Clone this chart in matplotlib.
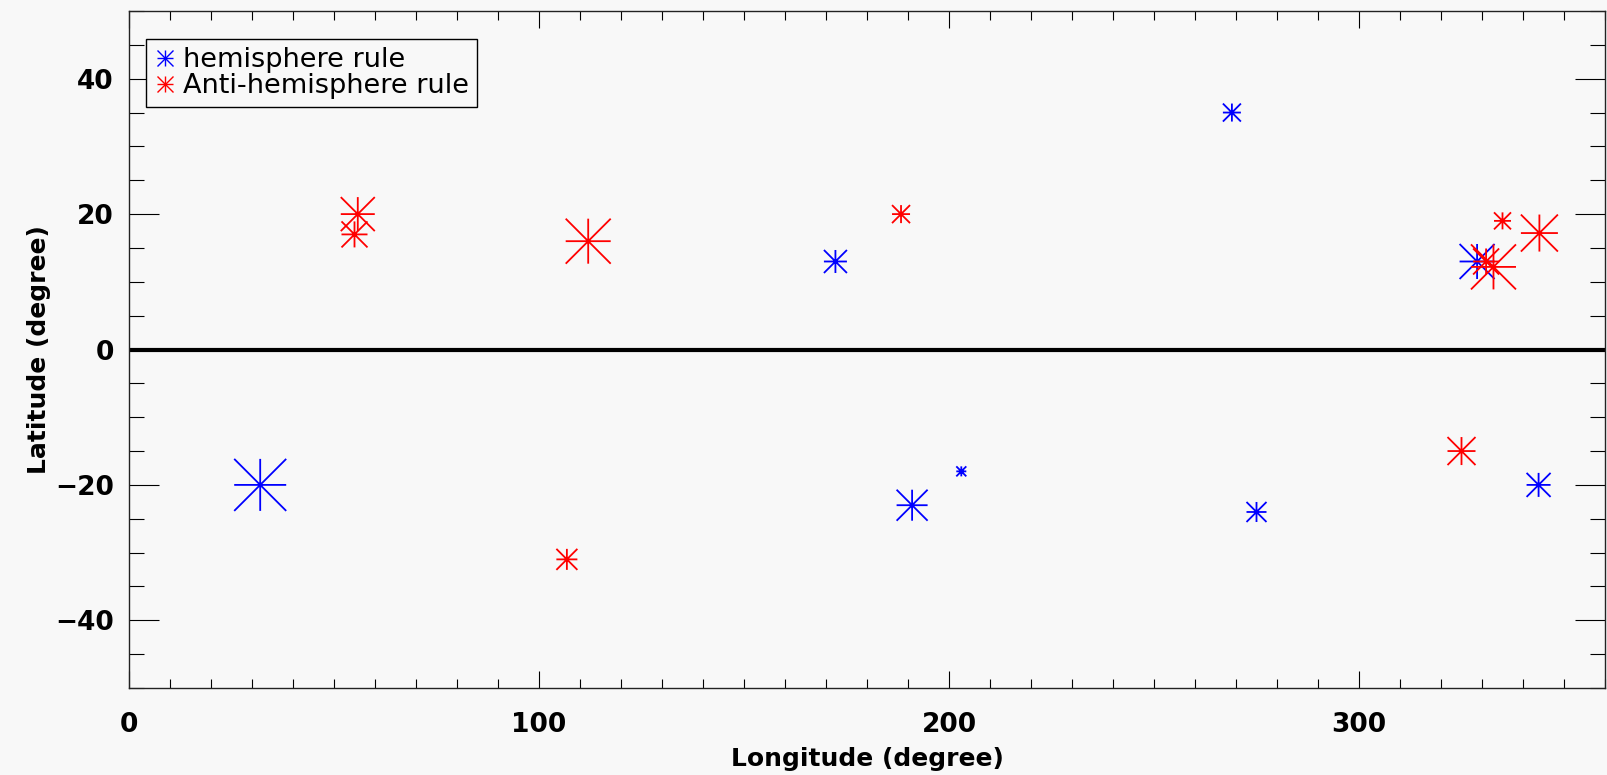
import matplotlib
matplotlib.use("Agg")
import matplotlib.pyplot as plt
from matplotlib.path import Path
from matplotlib.lines import Line2D
from matplotlib.legend_handler import HandlerTuple
from matplotlib.ticker import MultipleLocator

# hemisphere rule events: longitude, latitude, symbol size (px across)
hemi_lon = [32, 172.3, 191, 203, 269, 275, 328.8, 343.8]
hemi_lat = [-20, 13, -23, -18, 35, -24, 13, -20]
hemi_size = [52, 23, 31, 10, 18, 20, 35, 24]

# anti-hemisphere rule events
anti_lon = [55.8, 55, 112, 106.8, 188.3, 325, 332.8, 331, 335, 344]
anti_lat = [20, 17, 16, -31, 20, -15, 12.2, 13, 19, 17.2]
anti_size = [34, 26, 45, 21, 18, 28, 45, 26, 17, 37]

bg = "#f8f8f8"

# eight-armed asterisk like the IDL psym=2 symbol
star = Path([(-1, 0), (1, 0), (0, -1), (0, 1), (-1, -1), (1, 1), (-1, 1), (1, -1)],
            [Path.MOVETO, Path.LINETO] * 4)

fig = plt.figure(figsize=(16.07, 7.75), dpi=100, facecolor=bg)
ax = fig.add_axes([129 / 1607, 1 - 688 / 775, 1476 / 1607, 677 / 775], facecolor=bg)

px2pt = 72 / 100.0
ax.scatter(hemi_lon, hemi_lat, s=[(d * px2pt) ** 2 for d in hemi_size], marker=star,
           facecolors="none", edgecolors="blue", linewidths=1.3, zorder=3)
ax.scatter(anti_lon, anti_lat, s=[(d * px2pt) ** 2 for d in anti_size], marker=star,
           facecolors="none", edgecolors="red", linewidths=1.3, zorder=3)

ax.axhline(0, color="black", lw=3, zorder=2)

ax.set_xlim(0, 360)
ax.set_ylim(-50, 50)
ax.xaxis.set_major_locator(MultipleLocator(100))
ax.xaxis.set_minor_locator(MultipleLocator(10))
ax.yaxis.set_major_locator(MultipleLocator(20))
ax.yaxis.set_minor_locator(MultipleLocator(5))

tick_font = dict(fontsize=19, fontweight="bold", family="DejaVu Sans")
ax.set_xticks([0, 100, 200, 300])
ax.set_xticklabels(["0", "100", "200", "300"], **tick_font)
ax.set_yticks([-40, -20, 0, 20, 40])
ax.set_yticklabels(["\u221240", "\u221220", "0", "20", "40"], **tick_font)

ax.tick_params(axis="x", which="major", direction="in", length=12, width=0.8,
               top=True, pad=17)
ax.tick_params(axis="x", which="minor", direction="in", length=6.5, width=0.8, top=True)
ax.tick_params(axis="y", which="major", direction="in", length=21.5, width=0.8,
               right=True, pad=11)
ax.tick_params(axis="y", which="minor", direction="in", length=11, width=0.8, right=True)
for sp in ax.spines.values():
    sp.set_linewidth(1.0)
    sp.set_color("#222222")

ax.set_xlabel("Longitude (degree)", fontsize=18, fontweight="bold", labelpad=7)
ax.set_ylabel("Latitude (degree)", fontsize=18, fontweight="bold", labelpad=3)

def star_handle(color):
    return (Line2D([], [], ls="none", marker="+", markersize=12, mec=color, mew=1.0),
            Line2D([], [], ls="none", marker="x", markersize=12, mec=color, mew=1.0))

leg = ax.legend([star_handle("blue"), star_handle("red")],
                ["hemisphere rule", "Anti-hemisphere rule"],
                handler_map={tuple: HandlerTuple(ndivide=1)},
                loc="upper left", bbox_to_anchor=(0.0115, 0.9586), borderaxespad=0,
                fancybox=False, edgecolor="black", facecolor=bg, framealpha=1,
                prop=dict(size=19.5, family="DejaVu Sans"), handlelength=0.8,
                handletextpad=0.25, borderpad=0.3, labelspacing=0.0)
leg.get_frame().set_linewidth(1.0)

fig.savefig("out.png", dpi=100, facecolor=bg)
